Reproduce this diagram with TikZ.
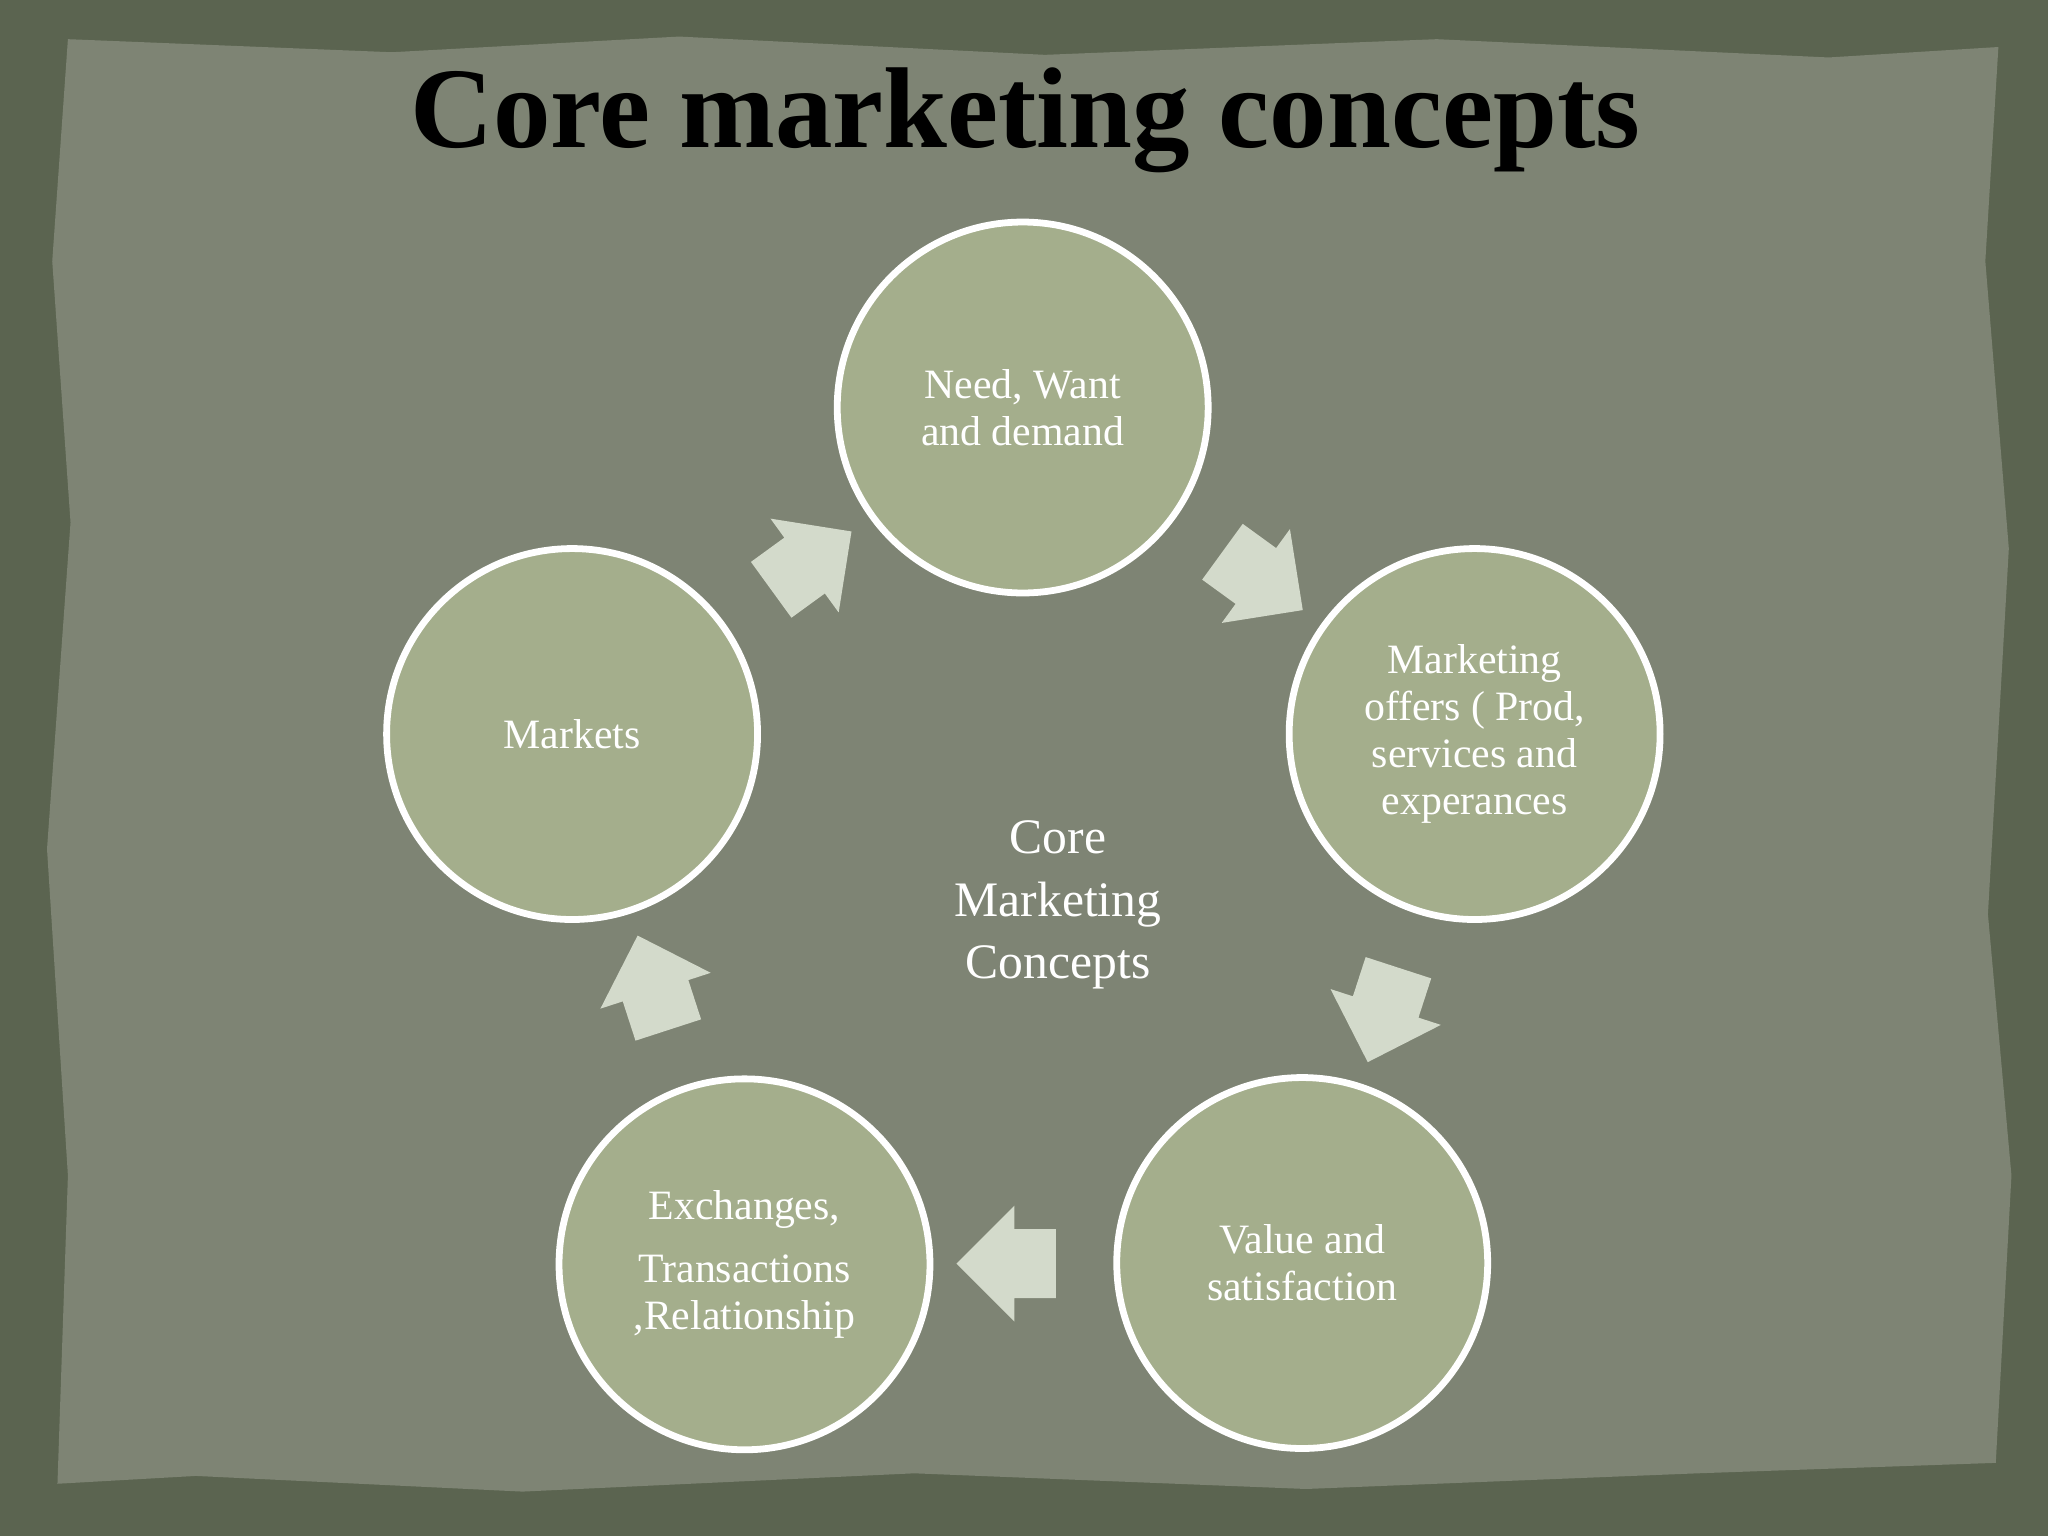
\documentclass[tikz,border=0pt]{standalone}
\usepackage{fontspec}
\setmainfont{Liberation Serif}
\usetikzlibrary{shapes.arrows,calc}
\definecolor{outerbg}{HTML}{5B6450}
\definecolor{paper}{HTML}{7E8474}
\definecolor{circfill}{HTML}{A4AE8C}
\definecolor{arrowfill}{HTML}{D3DACB}
\tikzset{
  circ/.style={circle,draw=white,line width=2.6pt,fill=circfill,minimum size=142pt,inner sep=0pt,align=center,text=white,font=\fontsize{16}{18}\selectfont},
  blockarrow/.style={single arrow,fill=arrowfill,draw=none,inner xsep=0pt,inner ysep=13pt,single arrow head extend=9pt,minimum height=38pt}
}
\begin{document}
\begin{tikzpicture}[x=0.5pt,y=-0.5pt]
\fill[outerbg] (0,0) rectangle (1568,1176);
\useasboundingbox (0,0) rectangle (1568,1176);
\fill[paper] (52,30) -- (300,40) -- (520,28) -- (800,42) -- (1100,30) -- (1400,44) -- (1530,36) -- (1520,200) -- (1538,420) -- (1522,700) -- (1540,900) -- (1528,1120) -- (1300,1128) -- (1000,1140) -- (700,1128) -- (400,1142) -- (150,1130) -- (44,1136) -- (52,900) -- (36,650) -- (54,400) -- (40,200) -- cycle;
\node[font=\bfseries\fontsize{44}{50}\selectfont] (title) at (785,92) {Core marketing concepts};
\node[circ] (need) at (783,312) {Need, Want\\and demand};
\node[circ] (offer) at (1129,562) {Marketing\\offers ( Prod,\\services and\\experances};
\node[circ] (value) at (997,967) {Value and\\satisfaction};
\node[circ] (exch) at (570,968) {Exchanges,\\[6pt]Transactions\\,Relationship};
\node[circ] (mkt) at (438,562) {Markets};
\node[align=center,text=white,font=\fontsize{19}{24}\selectfont] (center) at (810,693) {Core\\Marketing\\Concepts};
\node[blockarrow,rotate=-36] (a1) at ($(need)!0.5!(offer)$) {};
\node[blockarrow,rotate=-108] (a2) at ($(offer)!0.5!(value)$) {};
\node[blockarrow,rotate=180] (a3) at ($(value)!0.5!(exch)$) {};
\node[blockarrow,rotate=108] (a4) at ($(exch)!0.5!(mkt)$) {};
\node[blockarrow,rotate=36] (a5) at ($(mkt)!0.5!(need)$) {};
\end{tikzpicture}
\end{document}
